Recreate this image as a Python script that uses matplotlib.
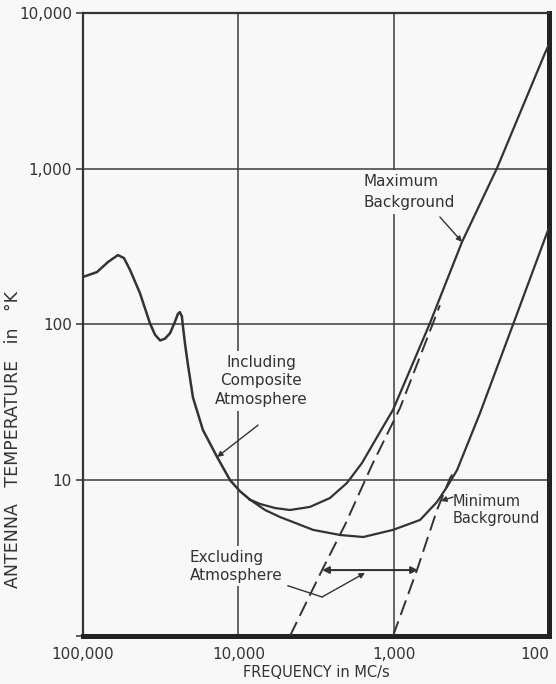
import numpy as np
import matplotlib.pyplot as plt
from matplotlib.ticker import FixedLocator, NullLocator

plt.rcParams['font.family'] = ['DejaVu Sans']

INK = '#333333'
PAPER = '#f8f8f8'

# frequency in MC/s and antenna temperature in deg K
# common part of the "including composite atmosphere" curve
comp_freq = [100000, 81300, 69000, 59600, 54500, 49800, 43000, 37100, 34400, 31900,
             29700, 27500, 25600, 24500, 23800, 23100, 22700, 22000, 21100, 19600,
             16900, 13700, 11300, 9760, 8410]
comp_temp = [202, 217, 252, 279, 267, 224, 159, 102, 86, 79,
             81, 88, 104, 117, 120, 113, 96, 74, 55, 34,
             21, 14.1, 10.0, 8.5, 7.5]

# branch running into the maximum background line
max_freq = [8410, 7240, 5800, 4650, 3460, 2570, 2000, 1600, 1225, 1010,
            785, 584, 363, 216, 106, 100]
max_temp = [7.5, 7.04, 6.63, 6.44, 6.74, 7.69, 9.6, 12.9, 20.4, 28.3,
            51, 102, 339, 1010, 5540, 6300]

# branch running into the minimum background line
min_freq = [8410, 6730, 5400, 3300, 2210, 1570, 1010, 676, 526, 454,
            391, 278, 171, 103, 100]
min_temp = [7.5, 6.44, 5.81, 4.80, 4.45, 4.32, 4.80, 5.56, 7.25, 9.05,
            11.6, 27, 99, 387, 417]

# galactic background alone (excluding atmosphere)
max_bg_freq = [4650, 2890, 2060, 1380, 910, 558, 504]
max_bg_temp = [1.0, 2.65, 5.16, 12.5, 29.1, 102, 133]
min_bg_freq = [1010, 708, 526, 434, 403]
min_bg_temp = [1.0, 2.65, 6.44, 10.3, 11.6]

ytick_vals = [1, 10, 100, 1000, 10000]
ytick_labels = ['', '10', '100', '1,000', '10,000']
xtick_vals = [100000, 10000, 1000, 100]
xtick_labels = ['100,000', '10,000', '1,000', '100']

fig = plt.figure(figsize=(5.56, 6.84), dpi=100, facecolor=PAPER)
ax = fig.add_axes([0.1493, 0.0702, 0.8381, 0.9108], facecolor=PAPER)

ax.set_xscale('log')
ax.set_yscale('log')
ax.set_xlim(100000, 100)
ax.set_ylim(1, 10000)

ax.plot(comp_freq, comp_temp, color=INK, lw=1.8, zorder=4, solid_capstyle='round')
ax.plot(max_freq, max_temp, color=INK, lw=1.6, zorder=4)
ax.plot(min_freq, min_temp, color=INK, lw=1.6, zorder=4)
ax.plot(max_bg_freq, max_bg_temp, color=INK, lw=1.4, ls=(0, (8, 3.5)), zorder=4)
ax.plot(min_bg_freq, min_bg_temp, color=INK, lw=1.4, ls=(0, (8, 3.5)), zorder=4)

# grid and frame
ax.xaxis.set_major_locator(FixedLocator(xtick_vals))
ax.yaxis.set_major_locator(FixedLocator(ytick_vals))
ax.xaxis.set_minor_locator(NullLocator())
ax.yaxis.set_minor_locator(NullLocator())
ax.set_xticklabels(xtick_labels)
ax.set_yticklabels(ytick_labels)
ax.grid(True, which='major', color='#3c3c3c', lw=1.1, zorder=1)
ax.tick_params(axis='x', length=0, pad=8, labelsize=11, colors=INK)
ax.tick_params(axis='y', length=5, width=1.1, pad=3, labelsize=11, colors=INK)
ax.get_xticklabels()[-1].set_horizontalalignment('right')

for side in ['left', 'top']:
    ax.spines[side].set_linewidth(1.6)
    ax.spines[side].set_color(INK)
for side in ['right', 'bottom']:
    ax.spines[side].set_linewidth(3.6)
    ax.spines[side].set_color('#222222')

ax.set_xlabel('FREQUENCY in MC/s', fontsize=10.5, color=INK)
ax.xaxis.set_label_coords(0.5, -0.047)
ax.set_ylabel('ANTENNA   TEMPERATURE   in   \u00b0K', fontsize=12.5, color=INK)
ax.yaxis.set_label_coords(-0.131, 0.315)

box = dict(boxstyle='square,pad=0.25', fc=PAPER, ec='none')
arrow = dict(arrowstyle='-|>', color=INK, lw=1.0, mutation_scale=8, shrinkA=0, shrinkB=0)

ax.text(7150, 43.4, 'Including\nComposite\nAtmosphere', ha='center', va='center',
        fontsize=11, color=INK, linespacing=1.3, bbox=box, zorder=2)
ax.annotate('', xy=(13700, 14.1), xytext=(7460, 22.6), arrowprops=arrow, zorder=5)

ax.text(1575, 709, 'Maximum\nBackground', ha='left', va='center',
        fontsize=11, color=INK, linespacing=1.55, bbox=box, zorder=2)
ax.annotate('', xy=(363, 339), xytext=(504, 490), arrowprops=arrow, zorder=5)

ax.text(415, 6.44, 'Minimum\nBackground', ha='left', va='center',
        fontsize=10.5, color=INK, linespacing=1.15, bbox=box, zorder=2)
ax.annotate('', xy=(496, 7.36), xytext=(415, 7.8), arrowprops=arrow, zorder=5)

ax.text(20500, 2.81, 'Excluding\nAtmosphere', ha='left', va='center',
        fontsize=11, color=INK, linespacing=1.25, bbox=box, zorder=2)
ax.plot([4790, 2890], [2.10, 1.78], color=INK, lw=1.0, zorder=5)
ax.annotate('', xy=(1530, 2.54), xytext=(2890, 1.78), arrowprops=arrow, zorder=5)

# spread between the two background lines
ax.annotate('', xy=(2890, 2.65), xytext=(697, 2.65),
            arrowprops=dict(arrowstyle='<|-|>', color=INK, lw=1.5,
                            mutation_scale=10, shrinkA=0, shrinkB=0), zorder=5)

fig.savefig('out.png', dpi=100, facecolor=PAPER)
